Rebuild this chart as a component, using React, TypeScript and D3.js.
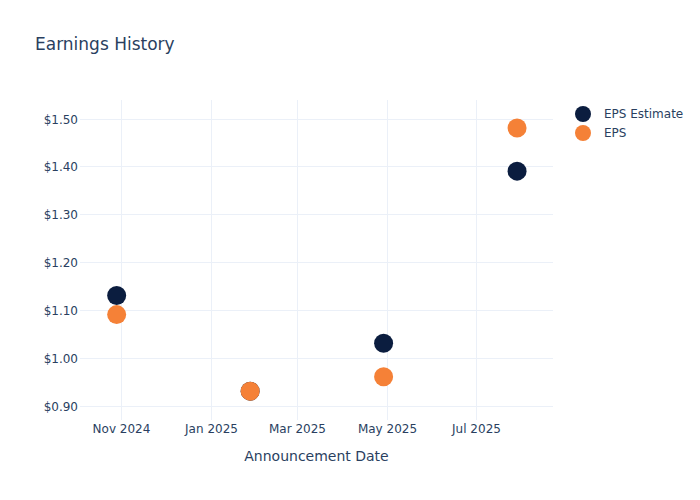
import React from "react";
import * as d3 from "d3";

const dates = ["2024-10-29", "2025-01-28", "2025-04-29", "2025-07-29"];
const epsEstimate = [1.13, 0.93, 1.03, 1.39];
const eps = [1.09, 0.93, 0.96, 1.48];
const yTicks = [0.9, 1.0, 1.1, 1.2, 1.3, 1.4, 1.5];
const xTickDates = ["2024-11-01", "2025-01-01", "2025-03-01", "2025-05-01", "2025-07-01"];
const seriesNames = ["EPS Estimate", "EPS"];
const seriesColors = ["#0b1d3f", "#f58137"];

const W = 700, H = 500;
const left = 80, right = 553, top = 100, bottom = 420;
const font = "'DejaVu Sans', 'Open Sans', sans-serif";
const textColor = "#2a3f5f";
const gridColor = "#ebf0f8";

export default function App() {
  const parse = d3.utcParse("%Y-%m-%d");
  const xDates = dates.map((d) => parse(d) as Date);
  const x = d3
    .scaleUtc()
    .domain([parse("2024-10-04") as Date, new Date(Date.UTC(2025, 7, 22, 12))])
    .range([left, right]);
  const y = d3.scaleLinear().domain([0.8697, 1.5387]).range([bottom, top]);
  const fmtX = d3.utcFormat("%b %Y");
  const series = [epsEstimate, eps];

  return (
    <svg width={W} height={H} style={{ display: "block", position: "absolute", left: 0, top: 0 }} fontFamily={font}>
      <rect width={W} height={H} fill="#fff" />
      {xTickDates.map((t) => {
        const d = parse(t) as Date;
        const px = Math.round(x(d)) + 0.5;
        return (
          <g key={t}>
            <line x1={px} x2={px} y1={top} y2={bottom} stroke={gridColor} strokeWidth={1} />
            <text x={px} y={433} textAnchor="middle" fontSize={12} fill={textColor}>
              {fmtX(d)}
            </text>
          </g>
        );
      })}
      {yTicks.map((t) => {
        const py = Math.round(y(t)) + 0.5;
        return (
          <g key={t}>
            <line x1={left} x2={right} y1={py} y2={py} stroke={gridColor} strokeWidth={1} />
            <text x={78} y={py + 4} textAnchor="end" fontSize={12} fill={textColor}>
              {"$" + t.toFixed(2)}
            </text>
          </g>
        );
      })}
      {series.map((vals, si) => (
        <g key={si}>
          {vals.map((v, i) => (
            <circle key={i} cx={x(xDates[i])} cy={y(v)} r={9.5} fill={seriesColors[si]} />
          ))}
        </g>
      ))}
      <text x={35} y={50} fontSize={17} fill={textColor}>
        Earnings History
      </text>
      <text x={(left + right) / 2} y={461} textAnchor="middle" fontSize={14} fill={textColor}>
        Announcement Date
      </text>
      {seriesNames.map((n, i) => (
        <g key={n} transform={`translate(583, ${114 + i * 19})`}>
          <circle cx={0} cy={0} r={8} fill={seriesColors[i]} />
          <text x={21} y={4} fontSize={12} fill={textColor}>
            {n}
          </text>
        </g>
      ))}
    </svg>
  );
}
